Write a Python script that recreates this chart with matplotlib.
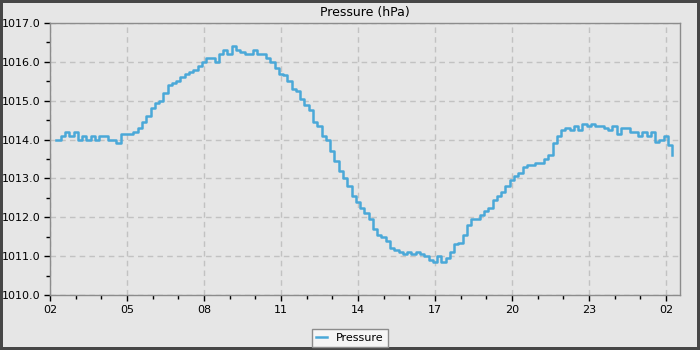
#!/usr/bin/env python3
"""Pressure trace over the last day, drawn as a stepped line."""

import numpy as np
import matplotlib
matplotlib.use('Agg')
import matplotlib.pyplot as plt
from matplotlib.ticker import MultipleLocator, FuncFormatter

# Readings every 10 minutes, starting at 02:15 (hours since midnight)
start_hour = 2.25
step_hours = 10 / 60.0

pressure = [
    1014.0, 1014.1, 1014.2, 1014.1, 1014.2, 1014.0, 1014.1, 1014.0, 1014.1, 1014.0,
    1014.1, 1014.1, 1014.0, 1014.0, 1013.9, 1014.15, 1014.15, 1014.15, 1014.2, 1014.3,
    1014.45, 1014.6, 1014.8, 1014.95, 1015.0, 1015.2, 1015.4, 1015.45, 1015.5, 1015.6,
    1015.7, 1015.75, 1015.8, 1015.9, 1016.0, 1016.1, 1016.1, 1016.0, 1016.2, 1016.3,
    1016.2, 1016.4, 1016.3, 1016.25, 1016.2, 1016.2, 1016.3, 1016.2, 1016.2, 1016.1,
    1016.0, 1015.85, 1015.7, 1015.65, 1015.5, 1015.3, 1015.25, 1015.05, 1014.9, 1014.75,
    1014.45, 1014.35, 1014.1, 1014.0, 1013.7, 1013.45, 1013.2, 1013.0, 1012.8, 1012.55,
    1012.4, 1012.25, 1012.1, 1011.95, 1011.7, 1011.55, 1011.5, 1011.4, 1011.2, 1011.15,
    1011.1, 1011.05, 1011.1, 1011.05, 1011.1, 1011.05, 1011.0, 1010.9, 1010.85, 1011.0,
    1010.85, 1010.95, 1011.1, 1011.3, 1011.35, 1011.55, 1011.8, 1011.95, 1011.95, 1012.05,
    1012.15, 1012.25, 1012.45, 1012.55, 1012.65, 1012.8, 1012.95, 1013.05, 1013.15, 1013.3,
    1013.35, 1013.35, 1013.4, 1013.4, 1013.5, 1013.6, 1013.9, 1014.1, 1014.25, 1014.3,
    1014.25, 1014.35, 1014.25, 1014.4, 1014.35, 1014.4, 1014.35, 1014.35, 1014.3, 1014.25,
    1014.35, 1014.15, 1014.3, 1014.3, 1014.2, 1014.2, 1014.1, 1014.2, 1014.1, 1014.2,
    1013.95, 1014.0, 1014.1, 1013.85, 1013.6,
]

hours = start_hour + step_hours * np.arange(len(pressure))

x_min, x_max = 2.0, 26.55
y_min, y_max = 1010.0, 1017.0

bg = '#e6e6e6'
line_color = '#4aa8d8'

fig = plt.figure(figsize=(7, 3.5), dpi=100)
fig.patch.set_facecolor(bg)
fig.patch.set_edgecolor('#464646')
fig.patch.set_linewidth(4)

ax = fig.add_axes([50 / 700, 55 / 350, 630 / 700, 272 / 350])
ax.set_facecolor(bg)

ax.plot(hours, pressure, drawstyle='steps-post', color=line_color,
        linewidth=1.8, label='Pressure')

ax.set_xlim(x_min, x_max)
ax.set_ylim(y_min, y_max)

# hour ticks every 3 h starting at 02:00, minor every hour
ax.xaxis.set_major_locator(MultipleLocator(3, offset=2))
ax.xaxis.set_minor_locator(MultipleLocator(1))
ax.xaxis.set_major_formatter(FuncFormatter(lambda v, p: f'{int(round(v)) % 24:02d}'))
ax.yaxis.set_major_locator(MultipleLocator(1))
ax.yaxis.set_minor_locator(MultipleLocator(0.5))
ax.yaxis.set_major_formatter(FuncFormatter(lambda v, p: f'{v:.1f}'))

ax.tick_params(which='major', direction='out', length=4, width=1,
               labelsize=8, colors='black', pad=3)
ax.tick_params(which='minor', direction='out', length=3, width=1, colors='black')

ax.grid(True, which='major', linestyle=(0, (4, 3)), color='#c2c2c2', linewidth=1)
ax.set_axisbelow(True)

for spine in ax.spines.values():
    spine.set_color('#8c8c8c')
    spine.set_linewidth(1)

ax.set_title('Pressure (hPa)', fontsize=9, pad=5)

leg = fig.legend(loc='center', bbox_to_anchor=(0.5, 12 / 350), fontsize=8,
                 frameon=True, fancybox=False, handlelength=1.0,
                 borderpad=0.35, handletextpad=0.8)
leg.get_frame().set_facecolor('#f5f5f5')
leg.get_frame().set_edgecolor('#8c8c8c')
leg.get_frame().set_alpha(1)

fig.savefig('out.png', dpi=100, facecolor=fig.get_facecolor(),
            edgecolor=fig.get_edgecolor())
